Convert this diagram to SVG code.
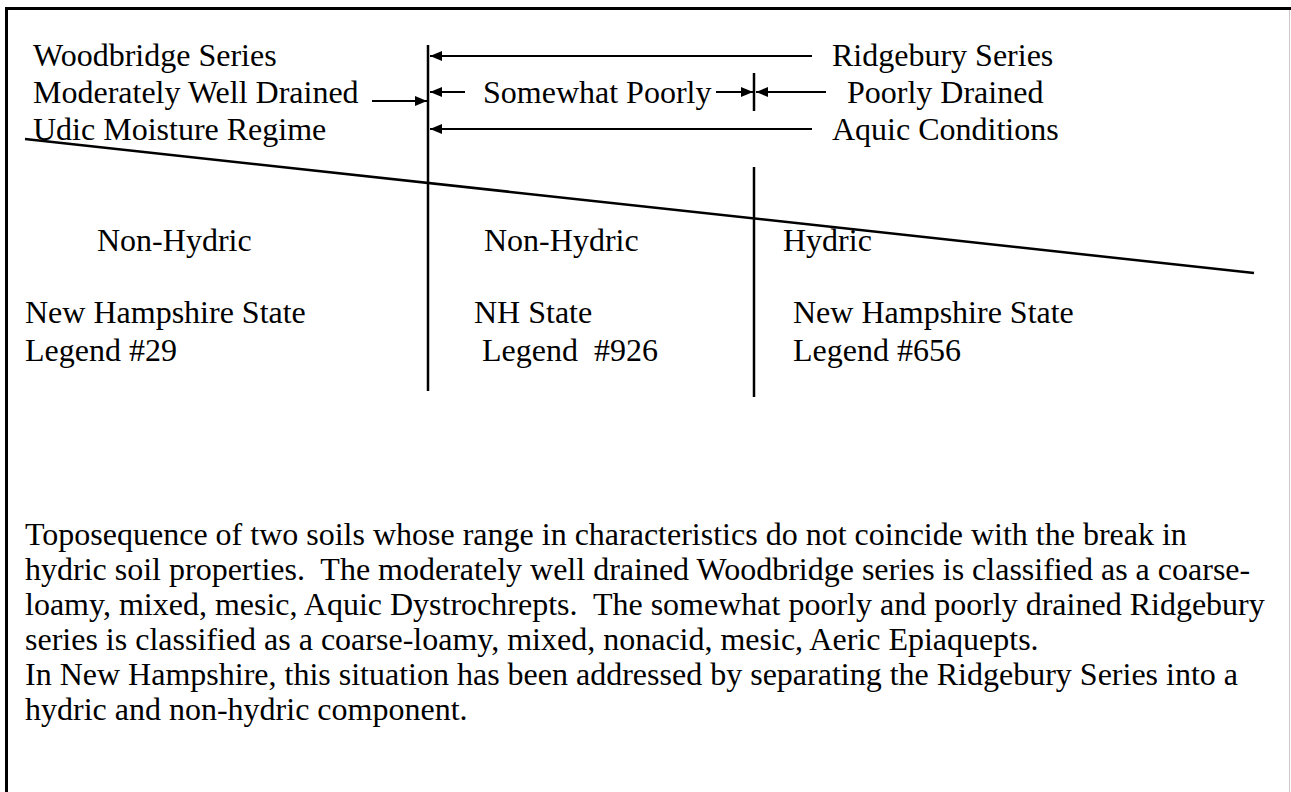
<svg xmlns="http://www.w3.org/2000/svg" width="1291" height="792" viewBox="0 0 1291 792">
<defs>
<marker id="ah" viewBox="0 0 12 10" refX="12" refY="5" markerWidth="12" markerHeight="10" markerUnits="userSpaceOnUse" orient="auto">
<path d="M0,0 L12,5 L0,10 Z" fill="#000"/>
</marker>
</defs>
<style>
.ln{stroke:#000;stroke-width:2.5;fill:none}
.ar{stroke:#000;stroke-width:2;fill:none;marker-end:url(#ah)}
text{font-family:"Times New Roman","Liberation Serif",Tinos,serif;font-size:32px;fill:#000}
</style>
<rect width="1291" height="792" fill="#fff"/>
<g id="frame">
<line x1="5" y1="8.5" x2="1291" y2="8.5" stroke="#000" stroke-width="3"/>
<line x1="6.5" y1="7" x2="6.5" y2="792" stroke="#000" stroke-width="3"/>
<line x1="1289.5" y1="10" x2="1289.5" y2="792" stroke="#ccc" stroke-width="1"/>
</g>
<g id="connectors">
<line class="ln" x1="428" y1="45" x2="428" y2="391"/>
<line class="ln" x1="754" y1="73" x2="754" y2="111"/>
<line class="ln" x1="754" y1="167" x2="754" y2="397"/>
<line class="ln" x1="25" y1="139" x2="1254" y2="273"/>
<line class="ar" x1="372" y1="101" x2="427" y2="101"/>
<line class="ar" x1="812" y1="56" x2="430" y2="56"/>
<line class="ar" x1="465" y1="92" x2="430" y2="92"/>
<line class="ar" x1="716" y1="92" x2="753" y2="92"/>
<line class="ar" x1="826" y1="92" x2="756" y2="92"/>
<line class="ar" x1="812" y1="129" x2="430" y2="129"/>
</g>
<g id="woodbridge">
<text x="33" y="66">Woodbridge Series</text>
<text x="33" y="103">Moderately Well Drained</text>
<text x="33" y="140">Udic Moisture Regime</text>
</g>
<g id="ridgebury">
<text x="832" y="66">Ridgebury Series</text>
<text x="847" y="103">Poorly Drained</text>
<text x="832" y="140">Aquic Conditions</text>
</g>
<g id="somewhat">
<text x="483" y="103">Somewhat Poorly</text>
</g>
<g id="col1">
<text x="97" y="251">Non-Hydric</text>
<text x="25" y="323">New Hampshire State</text>
<text x="25" y="361">Legend #29</text>
</g>
<g id="col2">
<text x="484" y="251">Non-Hydric</text>
<text x="474" y="323">NH State</text>
<text x="482" y="361" xml:space="preserve">Legend  #926</text>
</g>
<g id="col3">
<text x="783" y="251">Hydric</text>
<text x="793" y="323">New Hampshire State</text>
<text x="793" y="361">Legend #656</text>
</g>
<g id="caption">
<text x="25" y="545" xml:space="preserve">Toposequence of two soils whose range in characteristics do not coincide with the break in</text>
<text x="25" y="580" xml:space="preserve">hydric soil properties.  The moderately well drained Woodbridge series is classified as a coarse-</text>
<text x="25" y="615" xml:space="preserve">loamy, mixed, mesic, Aquic Dystrochrepts.  The somewhat poorly and poorly drained Ridgebury</text>
<text x="25" y="650" xml:space="preserve">series is classified as a coarse-loamy, mixed, nonacid, mesic, Aeric Epiaquepts.</text>
<text x="25" y="685" xml:space="preserve">In New Hampshire, this situation has been addressed by separating the Ridgebury Series into a</text>
<text x="25" y="720" xml:space="preserve">hydric and non-hydric component.</text>
</g>
</svg>
